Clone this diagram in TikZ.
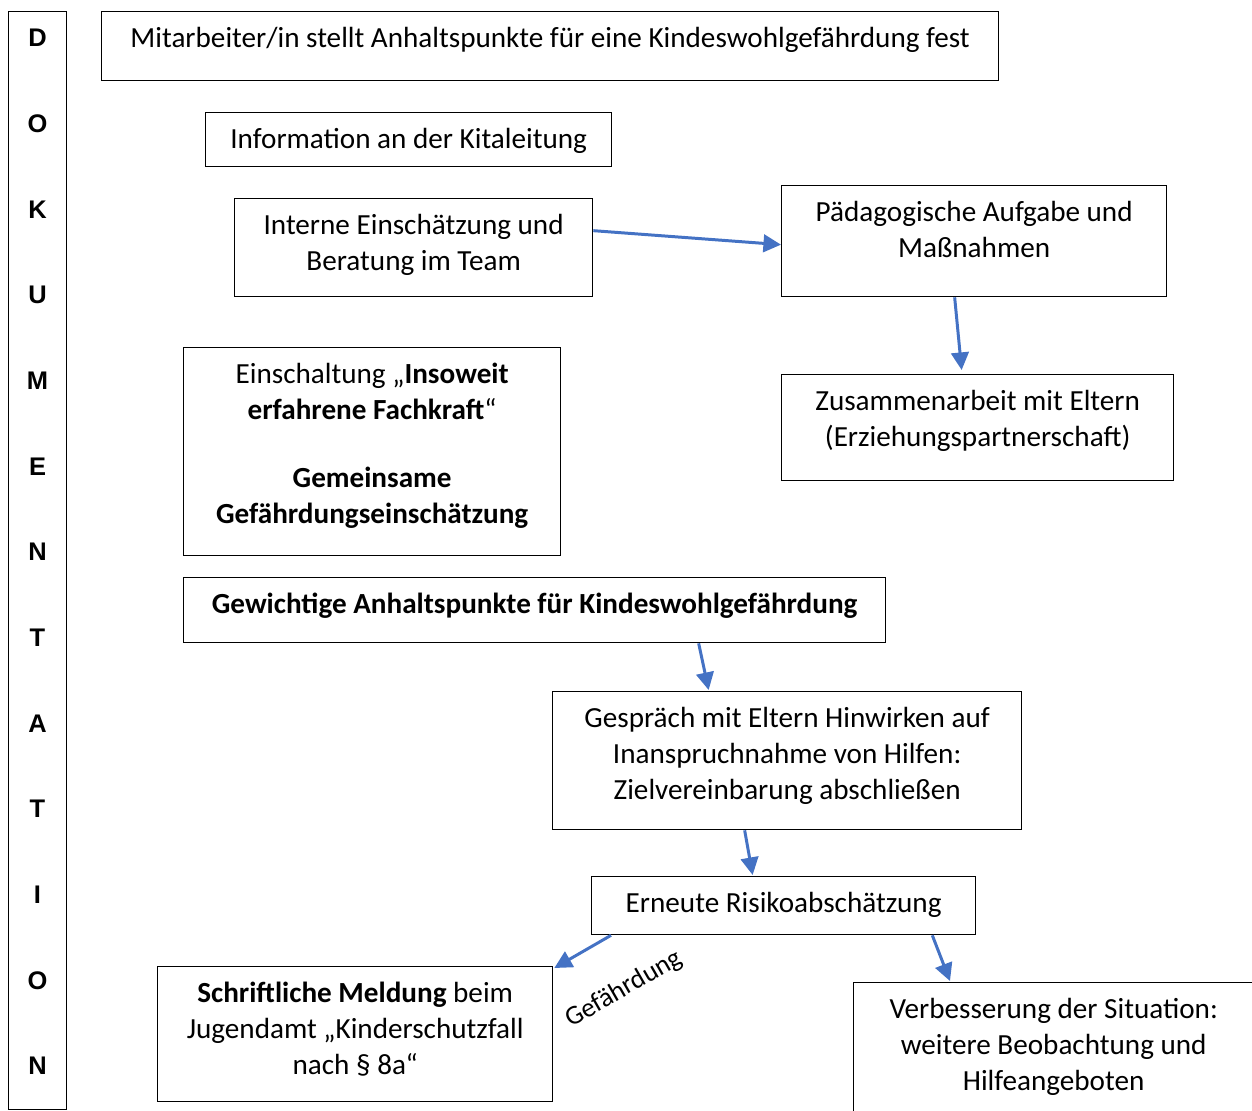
\documentclass[tikz,border=0pt]{standalone}
\usepackage{fontspec}
\setmainfont{Carlito}
\newfontfamily\dokfont{Liberation Sans}
\usetikzlibrary{arrows.meta, calc, positioning}
\definecolor{flowBlue}{HTML}{4472C4}
\tikzset{
    flowBox/.style={draw, rectangle, line width=0.75pt, anchor=north west, inner sep=0pt},
    flowText/.style={anchor=north, align=center, inner sep=0pt, font=\fontsize{16.6}{20.5}\selectfont},
    flowEdge/.style={-{Triangle[length=10pt, width=10pt]}, flowBlue, line width=1.7pt},
    dokLetter/.style={font=\dokfont\bfseries\fontsize{14.5}{16}\selectfont, inner sep=0pt},
}
% box from (x1,y1) to (x2,y2), text set from the top
\newcommand{\flowNode}[6]{
    \node[flowBox, minimum width={0.02cm*(#4-#2)}, minimum height={0.02cm*(#5-#3)}] (#1) at (#2,#3) {};
    \node[flowText] (#1-text) at ($(#1.north)+(0,15.5)$) {#6};
}
\newcommand{\flowArrow}[2]{
    \draw[flowEdge] (#1) -- (#2);
}

\begin{document}
\begin{tikzpicture}[x=0.02cm, y=-0.02cm]
        \useasboundingbox (0,0) rectangle (1252,1110);

        % Dokumentation column
        \node[flowBox, minimum width={0.02cm*58}, minimum height={0.02cm*1098}] (doku) at (8,11) {};
        \foreach \ch [count=\i from 0] in {D,O,K,U,M,E,N,T,A,T,I,O,N}
            \node[dokLetter] (dok\i) at (37.5, 38+85.67*\i) {\ch};

        \flowNode{mitarbeiter}{101}{11}{998}{80}{Mitarbeiter/in stellt Anhaltspunkte für eine Kindeswohlgefährdung fest}
        \flowNode{info}{205}{112}{611}{166}{Information an der Kitaleitung}
        \flowNode{team}{234}{198}{592}{296}{Interne Einschätzung und\\Beratung im Team}
        \flowNode{paed}{781}{185}{1166}{296}{Pädagogische Aufgabe und\\Maßnahmen}
        \flowNode{eltern}{781}{374}{1173}{480}{Zusammenarbeit mit Eltern\\(Erziehungspartnerschaft)}
        \flowNode{fachkraft}{183}{347}{560}{555}{Einschaltung „\textbf{Insoweit}\\\textbf{erfahrene Fachkraft}“\\[0.64cm]\textbf{Gemeinsame}\\\textbf{Gefährdungseinschätzung}}
        \flowNode{gewicht}{183}{577}{885}{642}{\textbf{Gewichtige Anhaltspunkte für Kindeswohlgefährdung}}
        \flowNode{gespraech}{552}{691}{1021}{829}{Gespräch mit Eltern Hinwirken auf\\Inanspruchnahme von Hilfen:\\Zielvereinbarung abschließen}
        \flowNode{risiko}{591}{876}{975}{934}{Erneute Risikoabschätzung}
        \flowNode{meldung}{157}{966}{552}{1101}{\textbf{Schriftliche Meldung} beim\\Jugendamt „Kinderschutzfall\\nach § 8a“}
        \flowNode{verbess}{853}{982}{1253}{1125}{Verbesserung der Situation:\\weitere Beobachtung und\\Hilfeangeboten}

        \flowArrow{$(team.east)+(0,-17)$}{$(paed.west)+(0,3.5)$}
        \flowArrow{$(paed.south)+(-19.5,0)$}{$(eltern.north)+(-16,-4)$}
        \flowArrow{$(gewicht.south)+(164,0)$}{$(gespraech.north)+(-78.5,-1)$}
        \flowArrow{$(gespraech.south)+(-42.5,0)$}{$(risiko.north)+(-31,-1)$}
        \flowArrow{$(risiko.south west)+(20,0)$}{$(meldung.north east)+(1,2)$}
        \flowArrow{$(risiko.south east)+(-44,0)$}{$(verbess.north west)+(97,-1)$}

        \node[flowText, anchor=center, rotate=30, font=\fontsize{15.4}{18}\selectfont] (gefahr) at (624,989) {Gefährdung};
    \end{tikzpicture}
\end{document}
